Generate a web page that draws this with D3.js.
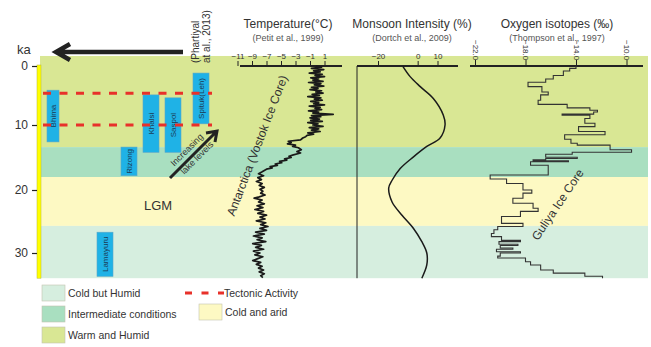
<!DOCTYPE html>
<html>
<head>
<meta charset="utf-8">
<script src="https://cdn.jsdelivr.net/npm/d3@7"></script>
<style>
  body { margin: 0; background: #fff; }
  svg { display: block; }
  text { font-family: "Liberation Sans", Arial, sans-serif; }
</style>
</head>
<body>
<svg id="chart" width="651" height="347"></svg>
<script>
// ---- data (ages in ka) ----
const zoneNames = ["Warm and Humid", "Intermediate conditions", "Cold and arid", "Cold but Humid"];
const zoneFrom = [-1.7, 13.4, 18.0, 25.7];
const zoneTo = [13.4, 18.0, 25.7, 34.0];

const siteNames = ["Bhima", "Khalsi", "Saspol", "Spituk(Leh)", "Rizong", "Lamayuru"];
const siteFrom = [4.1, 4.9, 5.4, 1.2, 13.4, 26.7];
const siteTo = [12.6, 14.2, 14.2, 9.8, 17.8, 33.7];

const tectonicAges = [4.6, 10];
const kaTicks = [0, 10, 20, 30];
const tempTicks = [-11, -9, -7, -5, -3, -1, 1];
const monsoonTicks = [-20, 0, 10];
const isoTicks = [-22, -18, -14, -10];

// Vostok temperature anomaly [ka, °C]
const vostok = [
  [0,-0.2],[0.2,0.6],[0.4,-0.8],[0.6,0.9],[0.8,-0.5],[1,0.4],[1.2,-1.1],[1.4,0.7],[1.6,-0.3],[1.8,1.0],
  [2,-0.9],[2.2,0.2],[2.4,-0.6],[2.6,0.8],[2.8,-1.2],[3,0.5],[3.2,-0.4],[3.4,0.9],[3.6,-0.8],[3.8,0.1],
  [4,-1.0],[4.2,0.6],[4.4,-0.2],[4.6,0.8],[4.8,-0.7],[5,0.3],[5.2,-1.3],[5.4,0.5],[5.6,-0.4],[5.8,0.7],
  [6,-0.9],[6.2,0.2],[6.4,-0.5],[6.6,1.0],[6.8,-1.1],[7,0.4],[7.2,-0.3],[7.4,0.6],[7.6,-1.2],[7.8,0.2],
  [8,-0.6],[8.2,2.2],[8.4,-0.8],[8.6,0.5],[8.8,-1.0],[9,0.3],[9.2,-0.9],[9.4,0.7],[9.6,-1.3],[9.8,0.1],
  [10,-0.6],[10.2,0.8],[10.4,-1.1],[10.6,0.2],[10.8,-0.8],[11,0.4],[11.2,-1.3],[11.4,-0.5],[11.6,-1.4],
  [11.8,-1.6],[12.0,-2.0],[12.3,-2.3],[12.5,-4.0],[12.7,-3.6],[12.9,-4.1],[13.1,-3.0],[13.3,-3.4],
  [13.5,-2.6],[13.8,-2.2],[14.1,-2.8],[14.3,-2.3],[14.6,-3.3],[14.8,-3.9],[15.0,-3.6],[15.2,-4.5],
  [15.4,-4.2],[15.6,-5.2],[15.8,-4.9],[16.0,-5.8],[16.2,-5.5],[16.4,-6.5],[16.6,-6.2],[16.8,-7.0],
  [17.0,-7.3],[17.2,-7.6],[17.5,-8.1],[17.8,-7.4],[18.1,-8.2],[18.4,-7.7],[18.7,-8.4],[19.0,-7.6],
  [19.3,-8.0],[19.6,-7.3],[19.9,-7.9],[20.2,-7.5],[20.5,-7.8],[20.8,-7.2],[21.1,-8.0],[21.3,-8.7],
  [21.6,-7.6],[21.9,-8.1],[22.2,-7.3],[22.5,-8.3],[22.8,-7.5],[23.1,-8.6],[23.4,-7.4],[23.7,-8.2],
  [24.0,-7.0],[24.3,-7.9],[24.6,-7.2],[24.9,-8.4],[25.2,-7.1],[25.5,-7.8],[25.8,-6.8],[26.1,-7.9],
  [26.4,-7.0],[26.7,-8.5],[27.0,-7.3],[27.3,-8.8],[27.6,-7.6],[27.9,-8.3],[28.2,-7.1],[28.5,-8.9],
  [28.8,-7.7],[29.1,-8.5],[29.4,-7.4],[29.7,-8.8],[30.0,-7.9],[30.3,-8.6],[30.6,-7.5],[30.9,-8.2],
  [31.2,-8.9],[31.5,-7.8],[31.8,-8.4],[32.1,-7.6],[32.4,-8.1],[32.7,-7.4],[33.0,-8.0],[33.3,-7.3],
  [33.6,-7.8],[33.9,-7.5]
];

// monsoon intensity anomaly [ka, %]
const monsoon = [
  [0.1,-7.4],[1.8,-3.8],[3.5,1.3],[5.5,7.9],[8.3,12.9],[10.0,13.8],[12.0,11.3],[13.3,4.6],
  [14.9,-2.1],[16.7,-8.8],[18.5,-12.9],[19.7,-14.6],[21.9,-12.9],[24.0,-7.9],[26.1,-2.1],
  [28.2,2.1],[30.0,4.6],[31.9,4.6],[34.0,2.1]
];

// Guliya δ18O, stepped record [ka at which value starts, ‰]
const guliya = [
  [0.0,-14.0],[0.4,-14.5],[0.85,-15.0],[1.6,-15.8],[2.2,-16.4],[2.75,-17.8],[3.5,-16.7],[4.4,-16.2],
  [4.9,-16.8],[5.8,-17.0],[6.5,-14.7],[7.1,-12.9],[7.5,-12.3],[7.8,-12.6],[8.15,-15.1],[8.35,-12.9],
  [8.9,-13.3],[9.7,-12.5],[10.25,-13.8],[11.0,-11.7],[11.5,-14.9],[12.2,-14.4],[12.8,-13.9],
  [13.1,-11.3],[13.8,-9.6],[14.2,-14.3],[14.5,-16.4],[14.95,-13.9],[15.15,-16.4],[15.35,-17.4],
  [15.5,-14.6],[15.65,-17.6],[16.2,-16.2],[17.7,-20.8],[18.3,-19.5],[19.0,-18.2],[20.0,-17.5],
  [20.5,-18.2],[21.3,-19.0],[22.1,-17.4],[22.9,-17.0],[23.4,-18.4],[24.2,-19.9],[25.3,-18.2],
  [25.8,-20.2],[26.3,-20.5],[26.9,-20.7],[27.4,-19.9],[28.0,-18.4],[28.2,-20.1],[28.6,-18.6],
  [28.8,-20.0],[29.2,-19.0],[29.4,-20.3],[29.8,-18.4],[30.0,-20.0],[30.5,-20.2],[30.8,-18.0],
  [31.4,-17.6],[31.9,-16.8],[32.7,-15.8],[33.2,-13.3],[33.7,-11.9],[34.0,-11.9]
];

// ---- styling ----
const zoneColor = d3.scaleOrdinal().domain(zoneNames)
  .range(["#d9e794", "#a9dfc0", "#fdf9c3", "#d6eedf"]);
const siteColor = "#1fb2e6";
const ink = "#222";
const textCol = "#333";

const svg = d3.select("#chart");

// ---- scales ----
const y = d3.scaleLinear().domain([0, 10, 20, 30]).range([66, 125, 190, 253]);
const xTemp = d3.scaleLinear().domain([-11, 1]).range([237.5, 324.5]);
const xMon = d3.scaleLinear().domain([-20, 10]).range([378, 437.5]);
const xIso = d3.scaleLinear().domain([-22, -10]).range([475, 626.5]);
const siteX = d3.scaleOrdinal().domain(siteNames).range([53, 151, 173, 201, 129, 105]);
const siteW = d3.scaleOrdinal().domain(siteNames).range([12, 16, 16, 16, 16, 16]);

// ---- climate zones ----
svg.append("g").selectAll("rect").data(zoneNames).join("rect")
  .attr("x", 40).attr("width", 608)
  .attr("y", (d, i) => y(zoneFrom[i]))
  .attr("height", (d, i) => y(zoneTo[i]) - y(zoneFrom[i]))
  .attr("fill", d => zoneColor(d));

// ---- age axis ----
svg.append("rect").attr("x", 37).attr("width", 4)
  .attr("y", y(0) - 1).attr("height", y(34) - y(0) + 1)
  .attr("fill", "#ffff00").attr("stroke", "#b8b830").attr("stroke-width", 0.5);
const ageAxis = svg.append("g").attr("transform", "translate(37,0)")
  .call(d3.axisLeft(y).tickValues(kaTicks).tickSize(5).tickPadding(4));
ageAxis.select(".domain").remove();
ageAxis.selectAll("line").attr("stroke", ink).attr("stroke-width", 1.2);
ageAxis.selectAll("text").attr("font-size", 12).attr("fill", textCol)
  .attr("font-family", "Liberation Sans, Arial, sans-serif");
svg.append("text").attr("x", 17).attr("y", 54).text("ka")
  .attr("font-size", 13).attr("fill", textCol);

// ---- big time arrow ----
svg.append("path").attr("d", "M183,52 L56,52 M70,44 L56,52 L70,60")
  .attr("fill", "none").attr("stroke", ink).attr("stroke-width", 4.5);

// ---- site boxes ----
const sites = svg.append("g").selectAll("g").data(siteNames).join("g");
sites.append("rect")
  .attr("x", d => siteX(d) - siteW(d) / 2).attr("width", d => siteW(d))
  .attr("y", (d, i) => y(siteFrom[i]))
  .attr("height", (d, i) => y(siteTo[i]) - y(siteFrom[i]))
  .attr("fill", siteColor).attr("stroke", "#5aa6c8").attr("stroke-width", 0.6);
sites.append("text")
  .attr("transform", (d, i) => `translate(${siteX(d) + 3},${(y(siteFrom[i]) + y(siteTo[i])) / 2}) rotate(-90)`)
  .attr("text-anchor", "middle").attr("font-size", 8).attr("fill", "#1b3c58")
  .text(d => d);

// ---- tectonic activity ----
svg.append("g").selectAll("line").data(tectonicAges).join("line")
  .attr("x1", 43).attr("x2", 212).attr("y1", d => y(d)).attr("y2", d => y(d))
  .attr("stroke", "#e8312a").attr("stroke-width", 3).attr("stroke-dasharray", "8,8.5");

// ---- source note ----
const note = svg.append("text").attr("font-size", 10).attr("fill", textCol)
  .attr("transform", "translate(199,63) rotate(-90)");
note.append("tspan").attr("x", 0).attr("dy", 0).text("(Phartiyal");
note.append("tspan").attr("x", 0).attr("dy", 11).text("at al., 2013)");

// ---- lake level arrow ----
svg.append("path").attr("d", "M170,178 L217,131 M206,133 L217,131 L215,142")
  .attr("fill", "none").attr("stroke", ink).attr("stroke-width", 3);
svg.append("text").attr("transform", "translate(189,152) rotate(-45)")
  .attr("text-anchor", "middle").attr("font-size", 9).attr("fill", textCol).text("Increasing");
svg.append("text").attr("transform", "translate(199,160) rotate(-45)")
  .attr("text-anchor", "middle").attr("font-size", 9).attr("fill", textCol).text("lake levels");

svg.append("text").attr("x", 158).attr("y", 210).attr("text-anchor", "middle")
  .attr("font-size", 13).attr("fill", textCol).text("LGM");

// ---- panel headers ----
function header(cx, title, source) {
  svg.append("text").attr("x", cx).attr("y", 28).attr("text-anchor", "middle")
    .attr("font-size", 12).attr("fill", textCol).text(title);
  svg.append("text").attr("x", cx).attr("y", 40.5).attr("text-anchor", "middle")
    .attr("font-size", 9).attr("fill", "#555").text(source);
}
header(288, "Temperature(°C)", "(Petit et al., 1999)");
header(412, "Monsoon Intensity (%)", "(Dortch et al., 2009)");
header(557, "Oxygen isotopes (‰)", "(Thompson et al., 1997)");

function topAxis(scale, ticks, x0, x1, fmt) {
  const g = svg.append("g").attr("transform", `translate(0,${y(0)})`)
    .call(d3.axisTop(scale).tickValues(ticks).tickSize(5).tickPadding(2).tickFormat(fmt));
  g.select(".domain").remove();
  g.selectAll("line").attr("stroke", ink);
  g.selectAll("text").attr("font-size", 8).attr("fill", textCol)
    .attr("font-family", "Liberation Sans, Arial, sans-serif");
  g.append("line").attr("x1", x0).attr("x2", x1).attr("stroke", ink).attr("stroke-width", 2);
  return g;
}
topAxis(xTemp, tempTicks, 240, 342, d3.format("d"));
topAxis(xMon, monsoonTicks, 357, 458, d3.format("d"));
const isoAxis = topAxis(xIso, isoTicks, 470, 643, d3.format(".1f"));
isoAxis.selectAll(".tick text")
  .attr("text-anchor", "start").attr("transform", "rotate(90)")
  .attr("x", -26).attr("y", 0).attr("dy", "0.32em");
isoAxis.selectAll(".tick line").attr("y2", -6);

// monsoon panel left edge
svg.append("line").attr("x1", 357).attr("x2", 357).attr("y1", y(0)).attr("y2", y(34))
  .attr("stroke", ink).attr("stroke-width", 1);

// ---- curves ----
svg.append("path").datum(vostok)
  .attr("d", d3.line().x(d => xTemp(d[1])).y(d => y(d[0])))
  .attr("fill", "none").attr("stroke", "#1a1a1a").attr("stroke-width", 1.7)
  .attr("stroke-linejoin", "round");

svg.append("path").datum(monsoon)
  .attr("d", d3.line().x(d => xMon(d[1])).y(d => y(d[0])).curve(d3.curveCatmullRom.alpha(0.5)))
  .attr("fill", "none").attr("stroke", "#1a1a1a").attr("stroke-width", 1.5);

svg.append("path").datum(guliya)
  .attr("d", d3.line().x(d => xIso(d[1])).y(d => y(d[0])).curve(d3.curveStepBefore))
  .attr("fill", "none").attr("stroke", "#333").attr("stroke-width", 1.1);

// ---- curve labels ----
svg.append("text").attr("transform", "translate(261,147) rotate(-69)")
  .attr("text-anchor", "middle").attr("font-size", 12).attr("fill", textCol)
  .text("Antarctica (Vostok Ice Core)");
svg.append("text").attr("transform", "translate(561,207) rotate(-56)")
  .attr("text-anchor", "middle").attr("font-size", 12).attr("fill", textCol)
  .text("Guliya Ice Core");

// ---- legend ----
const legendZones = [
  { name: "Cold but Humid", x: 42, y: 285 },
  { name: "Intermediate conditions", x: 42, y: 306 },
  { name: "Warm and Humid", x: 42, y: 327 },
  { name: "Cold and arid", x: 199, y: 304 }
];
const lg = svg.append("g").selectAll("g").data(legendZones).join("g")
  .attr("transform", d => `translate(${d.x},${d.y})`);
lg.append("rect").attr("width", 23).attr("height", 16)
  .attr("fill", d => zoneColor(d.name)).attr("stroke", "#c4c4b0").attr("stroke-width", 0.6);
lg.append("text").attr("x", 26).attr("y", 12).attr("font-size", 10.5).attr("fill", textCol)
  .text(d => d.name);

svg.append("line").attr("x1", 185).attr("x2", 224).attr("y1", 293).attr("y2", 293)
  .attr("stroke", "#e8312a").attr("stroke-width", 3).attr("stroke-dasharray", "7,9.5");
svg.append("text").attr("x", 224).attr("y", 297).attr("font-size", 10.5).attr("fill", textCol)
  .text("Tectonic Activity");
</script>
</body>
</html>
